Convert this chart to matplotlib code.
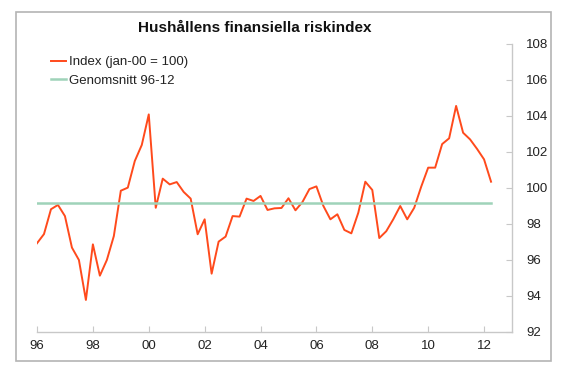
import numpy as np
import matplotlib.pyplot as plt
from matplotlib.patches import Rectangle

plt.rcParams['font.family'] = ['Liberation Sans', 'DejaVu Sans']

# quarterly values, 1996 Q1 - 2012 Q2
index_vals = [
    96.93, 97.44, 98.82, 99.06,
    98.44, 96.69, 96.00, 93.78,
    96.87, 95.13, 96.00, 97.33,
    99.85, 100.02, 101.50, 102.39,
    104.09, 98.90, 100.52, 100.20,
    100.33, 99.78, 99.41, 97.43,
    98.26, 95.24, 97.02, 97.30,
    98.44, 98.41, 99.41, 99.28,
    99.56, 98.78, 98.87, 98.89,
    99.43, 98.76, 99.22, 99.94,
    100.09, 99.00, 98.26, 98.54,
    97.67, 97.48, 98.63, 100.35,
    99.89, 97.22, 97.60, 98.26,
    99.00, 98.26, 98.90, 100.07,
    101.13, 101.13, 102.44, 102.76,
    104.56, 103.07, 102.70, 102.17,
    101.59, 100.35,
]
start_year = 1996
average_96_12 = 99.15
tick_years = [1996, 1998, 2000, 2002, 2004, 2006, 2008, 2010, 2012]
tick_labels = ['96', '98', '00', '02', '04', '06', '08', '10', '12']
y_ticks = [92, 94, 96, 98, 100, 102, 104, 106, 108]

t = start_year + np.arange(len(index_vals)) * 0.25

fig = plt.figure(figsize=(5.8, 3.8), dpi=100)
fig.patch.set_facecolor('white')

# outer frame
fig.patches.append(Rectangle((16 / 580, 1 - 361 / 380), 535 / 580, 349 / 380,
                             transform=fig.transFigure, fill=False,
                             edgecolor='#b4b4b4', lw=1.2))

ax = fig.add_axes([37 / 580, 1 - 332 / 380, 475 / 580, 288 / 380])
ax.plot(t, index_vals, color='#ff4a1c', lw=1.4, label='Index (jan-00 = 100)')
ax.plot([t[0], t[-1]], [average_96_12, average_96_12], color='#9fd3b9', lw=1.8,
        label='Genomsnitt 96-12')

ax.set_xlim(1996, 2013)
ax.set_ylim(92, 108)
ax.set_xticks(tick_years)
ax.set_xticklabels(tick_labels)
ax.set_yticks(y_ticks)
ax.yaxis.tick_right()

for s in ['top', 'left']:
    ax.spines[s].set_visible(False)
for s in ['bottom', 'right']:
    ax.spines[s].set_color('#c8c8c8')
    ax.spines[s].set_linewidth(1)
ax.tick_params(axis='both', direction='in', length=4, color='#c8c8c8',
               labelsize=9.5, labelcolor='#222222')
ax.tick_params(axis='x', pad=6)
ax.tick_params(axis='y', pad=10)

fig.text(255 / 580, 1 - 28 / 380, 'Hushållens finansiella riskindex',
         ha='center', va='center', fontsize=11, fontweight='bold', color='#111111')

leg = ax.legend(loc='upper left', bbox_to_anchor=(51 / 580, 1 - 56 / 380),
                bbox_transform=fig.transFigure, frameon=False, fontsize=9.5,
                handlelength=1.15, handletextpad=0.2, labelspacing=0.5,
                borderaxespad=0, borderpad=0)
for txt in leg.get_texts():
    txt.set_color('#222222')

fig.savefig('out.png', dpi=100)
